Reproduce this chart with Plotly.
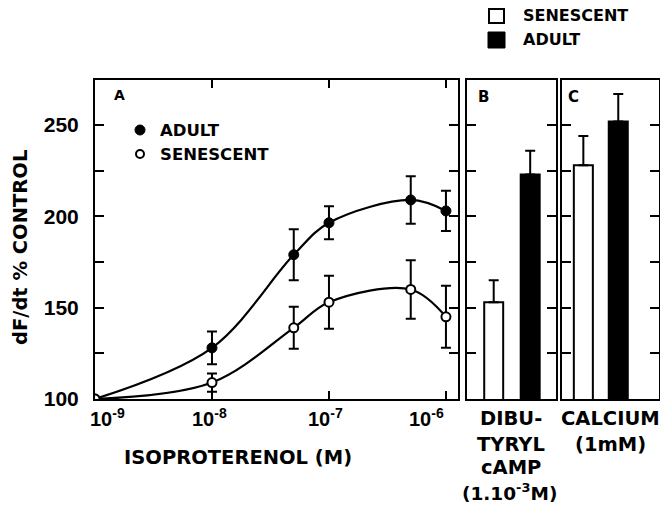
import math
import plotly.graph_objects as go

# Panel A: dose-response to isoproterenol
iso_conc = [1e-9, 1e-8, 5e-8, 1e-7, 5e-7, 1e-6]
adult_resp = [100, 128, 179, 196.5, 209, 203]
adult_err = [0, 9, 14, 9, 13, 11]
senescent_resp = [100, 109, 139, 153, 160, 145]
senescent_err = [0, 5, 11.5, 14.5, 16, 17]

# Panels B and C: single-agent responses
group_names = ["SENESCENT", "ADULT"]
dbcamp_resp = [153, 223]
dbcamp_err = [12, 13]
calcium_resp = [228, 252]
calcium_err = [16, 15]

x_ticks = [1e-9, 1e-8, 1e-7, 1e-6]
x_tick_text = ["10<sup>-9</sup>", "10<sup>-8</sup>", "10<sup>-7</sup>", "10<sup>-6</sup>"]
y_ticks = [100, 125, 150, 175, 200, 225, 250]
y_tick_text = ["100", "", "150", "", "200", "", "250"]

W, H = 660, 505
NUM_FONT = "Liberation Sans"
TXT_FONT = "DejaVu Sans"
BLACK = "#000000"


def px(x):
    return x / W


def py(y):
    return 1 - y / H


fig = go.Figure()

fig.add_trace(go.Scatter(
    x=iso_conc, y=adult_resp, mode="lines+markers",
    line=dict(color=BLACK, width=2.2, shape="spline", smoothing=1.0),
    marker=dict(size=10, color=BLACK, line=dict(color=BLACK, width=1)),
    error_y=dict(type="data", array=adult_err, color=BLACK, thickness=2, width=5),
    xaxis="x", yaxis="y", showlegend=False,
))
fig.add_trace(go.Scatter(
    x=iso_conc, y=senescent_resp, mode="lines+markers",
    line=dict(color=BLACK, width=2.2, shape="spline", smoothing=1.0),
    marker=dict(size=9, color="white", line=dict(color=BLACK, width=2)),
    error_y=dict(type="data", array=senescent_err, color=BLACK, thickness=2, width=5),
    xaxis="x", yaxis="y", showlegend=False,
))

bar_fill = ["white", BLACK]
pos_b = [0.30, 0.71]
pos_c = [0.22, 0.58]
for i in range(2):
    fig.add_trace(go.Bar(
        x=[pos_b[i]], y=[dbcamp_resp[i]], base=0, width=0.213,
        marker=dict(color=bar_fill[i], line=dict(color=BLACK, width=2)),
        error_y=dict(type="data", symmetric=False, array=[dbcamp_err[i]], arrayminus=[0],
                     color=BLACK, thickness=2, width=5),
        xaxis="x2", yaxis="y2", showlegend=False, name=group_names[i],
    ))
    fig.add_trace(go.Bar(
        x=[pos_c[i]], y=[calcium_resp[i]], base=0, width=0.196,
        marker=dict(color=bar_fill[i], line=dict(color=BLACK, width=2)),
        error_y=dict(type="data", symmetric=False, array=[calcium_err[i]], arrayminus=[0],
                     color=BLACK, thickness=2, width=5),
        xaxis="x3", yaxis="y3", showlegend=False, name=group_names[i],
    ))

y_range = [100, 274.7]
ydom = [py(399), py(80)]

common_y = dict(range=y_range, domain=ydom, showline=True, linecolor=BLACK, linewidth=2,
                mirror="ticks", ticks="inside", ticklen=9, tickwidth=2, tickcolor=BLACK,
                tickvals=y_ticks, showgrid=False, zeroline=False, fixedrange=True,
                automargin=False)
frame_x = dict(range=[0, 1], showline=True, linecolor=BLACK, linewidth=2, mirror=True,
               showticklabels=False, ticks="", showgrid=False, zeroline=False,
               automargin=False)

fig.update_layout(
    width=W, height=H,
    margin=dict(l=0, r=0, t=0, b=0, pad=0),
    paper_bgcolor="white", plot_bgcolor="white",
    font=dict(family=TXT_FONT, color=BLACK, size=16, weight="bold"),
    barmode="overlay",
    xaxis=dict(type="log", range=[-9, -5.897], domain=[px(95), px(458)],
               showline=True, linecolor=BLACK, linewidth=2, mirror="ticks",
               ticks="inside", ticklen=8, tickwidth=2, tickcolor=BLACK,
               tickvals=x_ticks, showticklabels=False, showgrid=False, zeroline=False,
               automargin=False, anchor="y"),
    yaxis=dict(**common_y, ticktext=y_tick_text,
               tickfont=dict(family=NUM_FONT, size=21, weight="bold"),
               ticklabelstandoff=10, anchor="x"),
    xaxis2=dict(**frame_x, domain=[px(467), px(556)], anchor="y2"),
    yaxis2=dict(**common_y, showticklabels=False, anchor="x2"),
    xaxis3=dict(**frame_x, domain=[px(562), px(659)], anchor="y3"),
    yaxis3=dict(**common_y, showticklabels=False, anchor="x3"),
)

annotations = []


def label(text, x, y, size=16, xanchor="center", angle=0, family=TXT_FONT, yanchor="middle"):
    annotations.append(dict(text=text, x=px(x), y=py(y), xref="paper", yref="paper",
                            showarrow=False, xanchor=xanchor, yanchor=yanchor,
                            textangle=angle, borderpad=0,
                            font=dict(size=size, family=family, weight="bold")))


# decade labels under panel A, nudged the way they were lettered
tick_nudge = [12, -2, -3, -19]
for val, txt, dx in zip(x_ticks, x_tick_text, tick_nudge):
    annotations.append(dict(text=txt, x=math.log10(val), xref="x", y=py(404), yref="paper",
                            showarrow=False, xanchor="center", yanchor="top", xshift=dx,
                            borderpad=0, font=dict(size=20, family=NUM_FONT, weight="bold")))

# axis titles
label("dF/dt % CONTROL", 20, 248, size=19.5, angle=-90)
label("ISOPROTERENOL (M)", 238, 457, size=19.5)

# panel letters
label("A", 119, 95, size=14)
label("B", 483, 97, size=15)
label("C", 573, 97, size=15)

# panel A key
label("ADULT", 159, 130, size=16.5, xanchor="left")
label("SENESCENT", 159, 154, size=16.5, xanchor="left")

# top key
label("SENESCENT", 522, 15, size=16, xanchor="left")
label("ADULT", 522, 40, size=16, xanchor="left")

# bar group labels
label("DIBU-", 511, 418, size=19.5)
label("TYRYL", 511, 444, size=19.5)
label("cAMP", 511, 467, size=19.5)
label("(1.10<sup>-3</sup>M)", 509, 505, size=18.5, yanchor="bottom")
label("CALCIUM", 610, 418, size=19.5)
label("(1mM)", 610, 444, size=19.5)

fig.update_layout(annotations=annotations)

shapes = [
    # panel A key markers
    dict(type="circle", xref="paper", yref="paper", x0=px(135), x1=px(145),
         y0=py(135), y1=py(125), fillcolor=BLACK, line=dict(color=BLACK, width=1)),
    dict(type="circle", xref="paper", yref="paper", x0=px(136), x1=px(144),
         y0=py(158), y1=py(150), fillcolor="white", line=dict(color=BLACK, width=2)),
    # top key swatches
    dict(type="rect", xref="paper", yref="paper", x0=px(489), x1=px(504),
         y0=py(23), y1=py(9), fillcolor="white", line=dict(color=BLACK, width=2)),
    dict(type="rect", xref="paper", yref="paper", x0=px(488), x1=px(505),
         y0=py(48), y1=py(32), fillcolor=BLACK, line=dict(color=BLACK, width=1)),
]
fig.update_layout(shapes=shapes)

fig.write_html("out.html")
